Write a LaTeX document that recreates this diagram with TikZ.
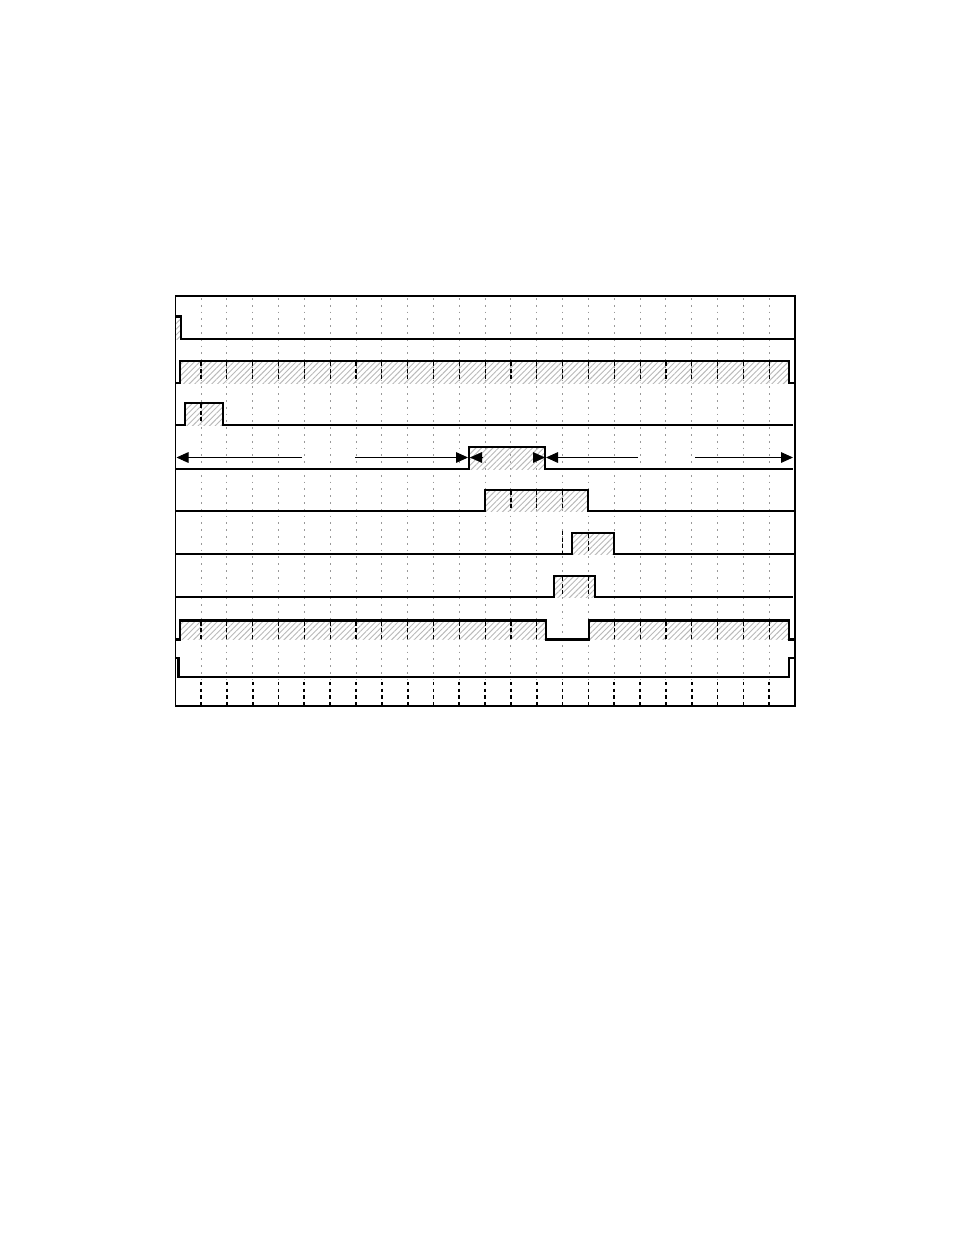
\documentclass[tikz,border=0pt]{standalone}
\usetikzlibrary{arrows.meta,patterns.meta}
\begin{document}
\begin{tikzpicture}[x=0.75pt,y=-0.75pt,
  sig/.style={line width=1.7pt,line join=miter},
  hatch/.style={pattern={Lines[angle=45,distance=3pt,line width=0.7pt]},pattern color=gray!55},
  gridln/.style={gray!80,line width=0.7pt,dash pattern=on 1.3pt off 3.8pt},
  banddash/.style={black,line width=0.9pt,dash pattern=on 3pt off 2pt},
  botdash/.style={black,line width=1.3pt,dash pattern=on 2.4pt off 2.6pt},
  arr/.style={line width=0.7pt,-{Triangle[length=9pt,width=8pt]}},
  headonly/.style={line width=0.1pt,-{Triangle[length=9pt,width=8pt]}}]
\useasboundingbox (0,0) rectangle (954,1235);
% grid
\foreach \k in {0,...,22}{
  \pgfmathsetmacro\gx{201+25.83*\k}
  \draw[gridln] (\gx,298) -- (\gx,680);
  \draw[botdash] (\gx,682) -- (\gx,705);
}
% hatch fills
\fill[hatch] (176,316.5) rectangle (181,339);
\fill[hatch] (180,361) rectangle (789,383);
\fill[hatch] (185,403) rectangle (223,425);
\fill[hatch] (469,447) rectangle (545,469);
\fill[hatch] (485,490) rectangle (588,511);
\fill[hatch] (572,533) rectangle (614,554);
\fill[hatch] (554,576) rectangle (595,597);
\fill[hatch] (180,620.5) rectangle (546,639.5);
\fill[hatch] (589,620.5) rectangle (789,639.5);
% black dashes inside bands
\foreach \k in {0,...,22}{\pgfmathsetmacro\gx{201+25.83*\k}\draw[banddash] (\gx,362) -- (\gx,382);}
\foreach \k in {0}{\pgfmathsetmacro\gx{201+25.83*\k}\draw[banddash] (\gx,404) -- (\gx,424);}
\foreach \k in {12,13,14}{\pgfmathsetmacro\gx{201+25.83*\k}\draw[banddash] (\gx,491) -- (\gx,510);}
\foreach \k in {14}{\pgfmathsetmacro\gx{201+25.83*\k}\draw[banddash] (\gx,531) -- (\gx,553);}
\foreach \k in {15}{\pgfmathsetmacro\gx{201+25.83*\k}\draw[banddash] (\gx,534) -- (\gx,553);}
\foreach \k in {14,15}{\pgfmathsetmacro\gx{201+25.83*\k}\draw[banddash] (\gx,577) -- (\gx,596);}
\foreach \k in {0,...,13,16,17,...,22}{\pgfmathsetmacro\gx{201+25.83*\k}\draw[banddash] (\gx,621.5) -- (\gx,638.5);}
% signals
\draw[sig] (176,316.5) -- (181,316.5) -- (181,339) -- (795,339);
\draw[sig] (176,383) -- (180,383) -- (180,361) -- (789,361) -- (789,383) -- (795,383);
\draw[sig] (176,425) -- (185,425) -- (185,403) -- (223,403) -- (223,425) -- (793,425);
\draw[sig] (176,469) -- (469,469) -- (469,447) -- (545,447) -- (545,469) -- (793,469);
\draw[sig] (176,511) -- (485,511) -- (485,490) -- (588,490) -- (588,511) -- (795,511);
\draw[sig] (176,554) -- (572,554) -- (572,533) -- (614,533) -- (614,554) -- (795,554);
\draw[line width=2.2pt] (531,554) -- (572,554);
\draw[sig] (176,597) -- (554,597) -- (554,576) -- (595,576) -- (595,597) -- (793,597);
\draw[sig] (176,639.5) -- (180,639.5) -- (180,620.5) -- (546,620.5) -- (546,639.5) -- (589,639.5) -- (589,620.5) -- (789,620.5) -- (789,639.5) -- (795,639.5);
\draw[sig] (176,658) -- (178.5,658) -- (178.5,677) -- (789,677) -- (789,658) -- (795,658);
% arrows
\draw[arr] (302,457.5) -- (176.5,457.5);
\draw[arr] (355,457.5) -- (468,457.5);
\draw[headonly] (482,457.5) -- (470,457.5);
\draw[headonly] (533,457.5) -- (545,457.5);
\draw[arr] (638,457.5) -- (546,457.5);
\draw[arr] (695,457.5) -- (793,457.5);
% frame
\draw[line width=0.8pt] (175.5,296) rectangle (795,706);
\end{tikzpicture}
\end{document}
